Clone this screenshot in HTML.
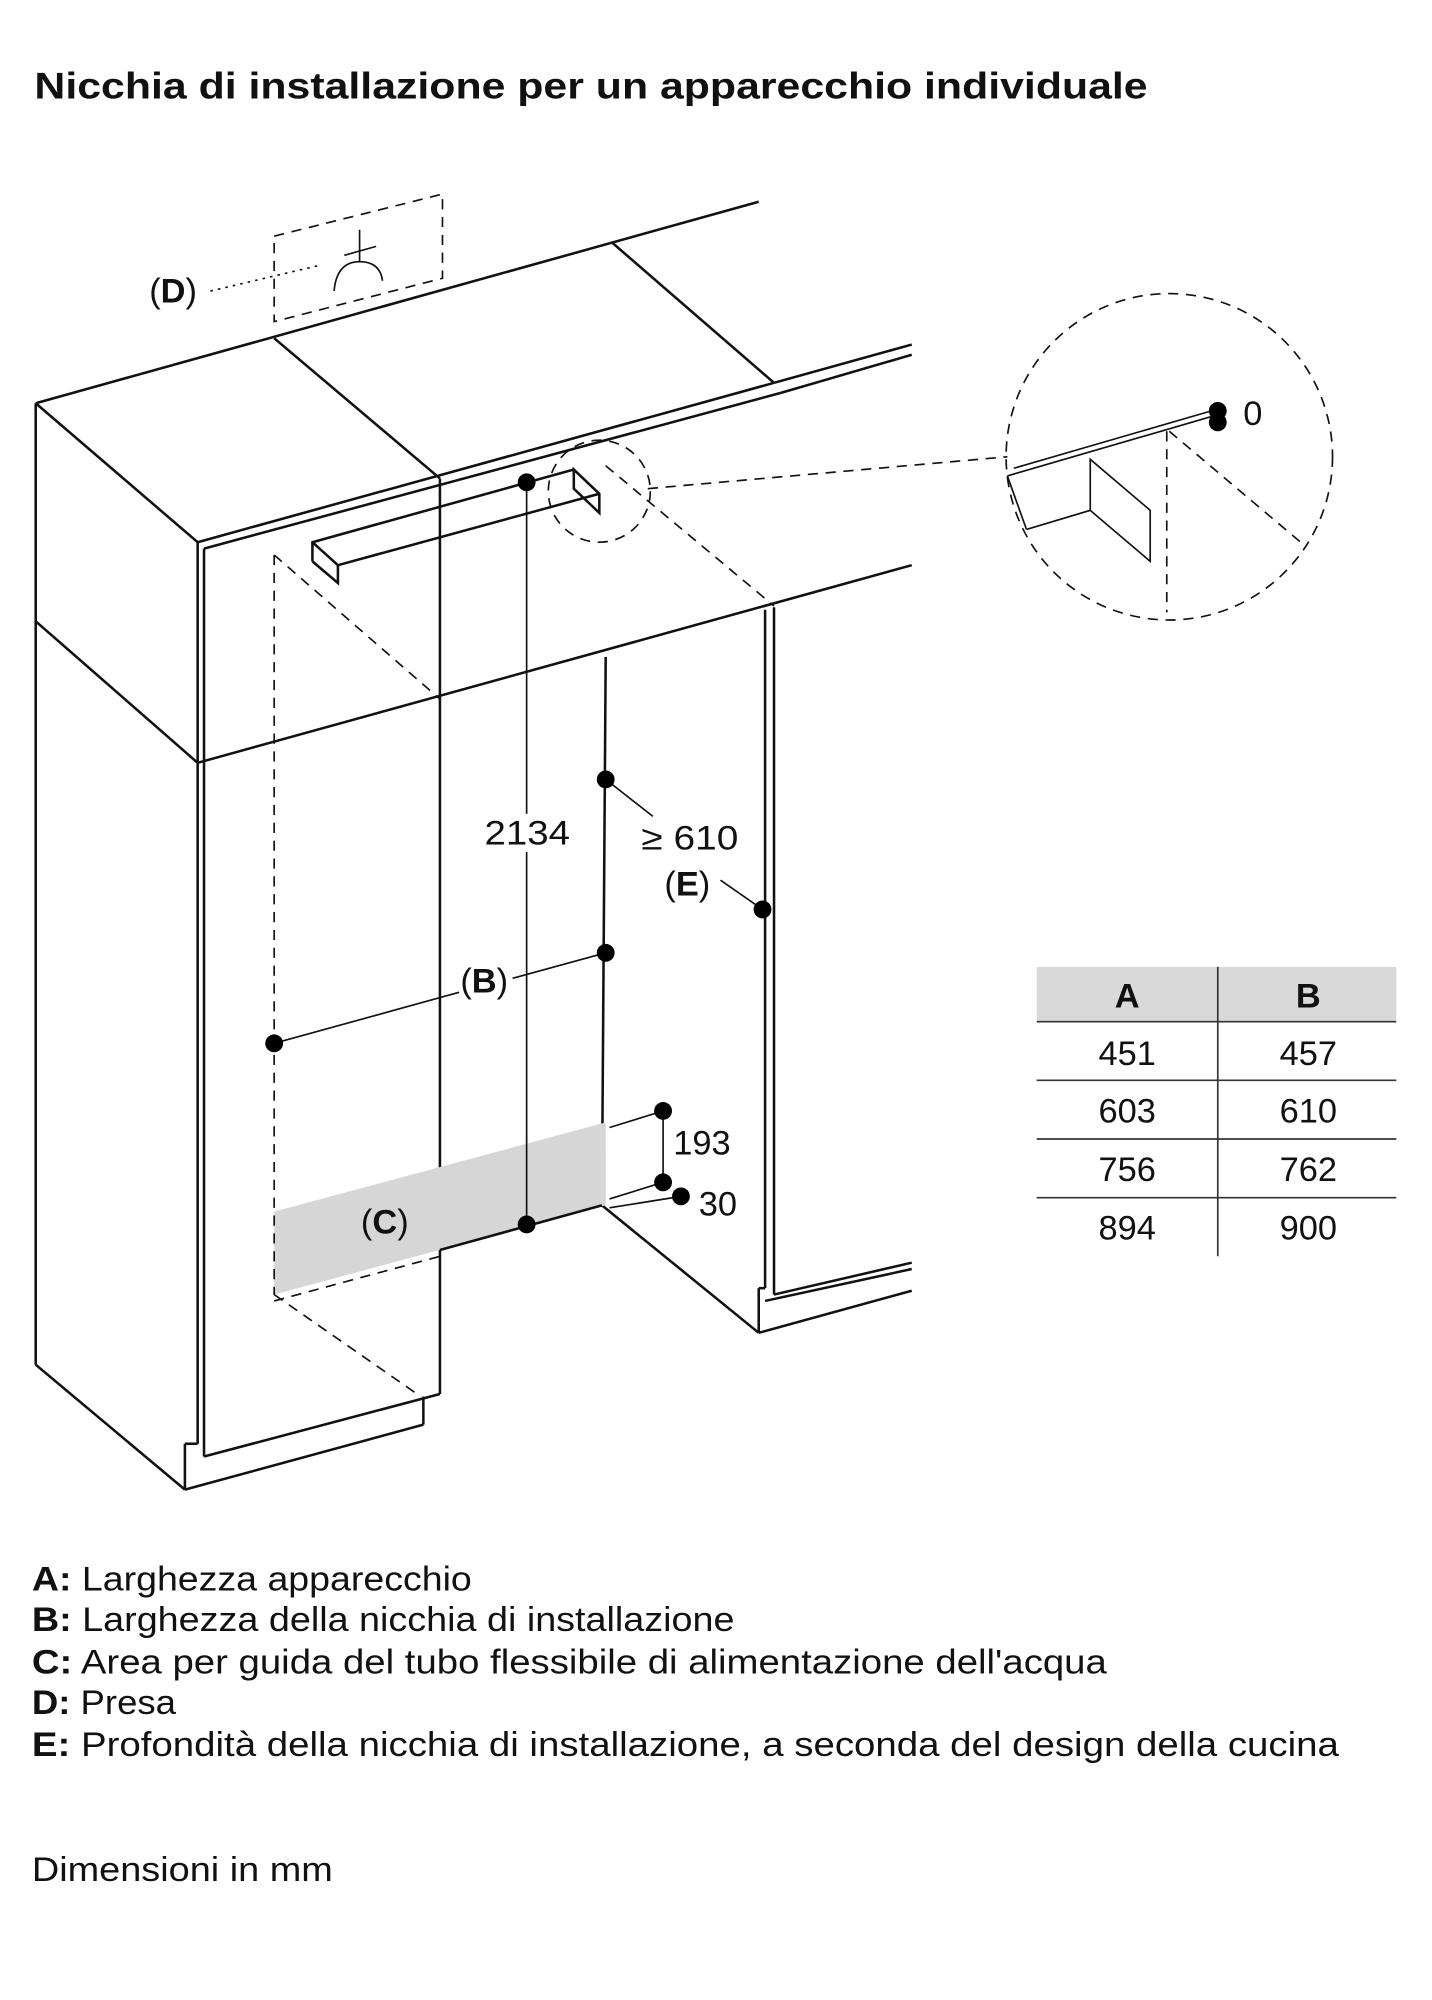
<!DOCTYPE html>
<html><head><meta charset="utf-8"><style>
html,body{margin:0;padding:0;background:#fff}
svg{display:block}
text{font-family:"Liberation Sans",sans-serif;fill:#111}
</style></head><body>
<svg width="1432" height="2000" viewBox="0 0 1123 1568" xmlns="http://www.w3.org/2000/svg">
<text x="27" y="77" font-size="29" font-weight="bold" textLength="873" lengthAdjust="spacingAndGlyphs">Nicchia di installazione per un apparecchio individuale</text>
<g stroke="#111" stroke-width="2" fill="none">
<line x1="28" y1="316" x2="595" y2="158"/>
<line x1="28" y1="316" x2="155" y2="425"/>
<line x1="155" y1="425" x2="607" y2="300"/>
<line x1="607" y1="300" x2="715" y2="270"/>
<line x1="612" y1="308" x2="715" y2="278"/>
<line x1="160" y1="430" x2="612" y2="308"/>
<line x1="215" y1="265" x2="345" y2="375"/>
<line x1="480" y1="190" x2="607" y2="300"/>
<line x1="155" y1="598" x2="715" y2="443"/>
<line x1="28" y1="487" x2="155" y2="598"/>
<line x1="28" y1="316" x2="28" y2="1070"/>
<line x1="155" y1="425" x2="155" y2="1132"/>
<line x1="160" y1="430" x2="160" y2="1142"/>
<line x1="28" y1="1070" x2="145" y2="1168"/>
<line x1="145" y1="1168" x2="332" y2="1117"/>
<line x1="145" y1="1132" x2="155" y2="1132"/>
<line x1="145" y1="1132" x2="145" y2="1168"/>
<line x1="160" y1="1142" x2="345" y2="1093"/>
<line x1="332" y1="1095" x2="332" y2="1117"/>
<line x1="345" y1="375" x2="345" y2="1093"/>
<line x1="475" y1="515" x2="472" y2="945"/>
<line x1="345" y1="980" x2="472" y2="945"/>
<line x1="472" y1="945" x2="595" y2="1045"/>
<line x1="600" y1="478" x2="600" y2="1010"/>
<line x1="607" y1="476" x2="607" y2="1015"/>
<line x1="595" y1="1010" x2="595" y2="1045"/>
<line x1="595" y1="1010" x2="600" y2="1010"/>
<line x1="607" y1="1015" x2="715" y2="990"/>
<line x1="600" y1="1020" x2="715" y2="995"/>
<line x1="595" y1="1045" x2="715" y2="1012"/>
<polyline points="245,440 245,425 450,368"/>
<polyline points="245,440 265,457 265,443 470,387"/>
<line x1="245" y1="425" x2="265" y2="443"/>
<polygon points="450,368 470,387 470,402 450,383"/>
</g>
<polygon points="215,950 475,880 475,945 345,980 215,1015" fill="#d6d6d6"/>
<line x1="345" y1="980" x2="472" y2="945" stroke="#111" stroke-width="2"/>
<g stroke="#111" stroke-width="1.3" fill="none" stroke-dasharray="8,6">
<line x1="215" y1="435" x2="215" y2="1015"/>
<line x1="215" y1="435" x2="345" y2="548"/>
<line x1="475" y1="365" x2="607" y2="475"/>
<line x1="215" y1="1015" x2="330" y2="1095"/>
<line x1="215" y1="1020" x2="345" y2="985"/>
<polygon points="215,185 347,152 347,218 215,252"/>
<circle cx="470" cy="385" r="40"/>
<line x1="508" y1="383" x2="790" y2="358"/>
<circle cx="917" cy="358" r="128"/>
<line x1="915" y1="338" x2="915" y2="480"/>
<line x1="917" y1="338" x2="1020" y2="425"/>
</g>
<g stroke="#111" stroke-width="1.3" fill="none">
<line x1="413" y1="378" x2="413" y2="960"/>
<line x1="215" y1="818" x2="360" y2="778"/>
<line x1="402" y1="767" x2="475" y2="747"/>
<line x1="475" y1="611" x2="512" y2="640"/>
<line x1="565" y1="690" x2="598" y2="713"/>
<line x1="520" y1="871" x2="520" y2="927"/>
<line x1="478" y1="884" x2="520" y2="871"/>
<line x1="478" y1="940" x2="520" y2="927"/>
<line x1="478" y1="947" x2="534" y2="938"/>
<line x1="165" y1="228" x2="250" y2="208" stroke-dasharray="2,4"/>
<path d="M262,228 Q264,205 282,205 Q298,205 300,220"/>
<line x1="282" y1="205" x2="282" y2="180"/>
<line x1="270" y1="200" x2="295" y2="193"/>
<line x1="790" y1="373" x2="955" y2="325"/>
<line x1="795" y1="367" x2="950" y2="322"/>
<polyline points="805,415 855,400 855,360 902,400 902,440 855,400"/>
<line x1="790" y1="373" x2="805" y2="415"/>
</g>
<rect x="378" y="638" width="70" height="30" fill="#fff"/>
<g fill="#000">
<circle cx="413" cy="378" r="7"/><circle cx="413" cy="960" r="7"/>
<circle cx="215" cy="818" r="7"/><circle cx="475" cy="747" r="7"/>
<circle cx="475" cy="611" r="7"/><circle cx="598" cy="713" r="7"/>
<circle cx="520" cy="871" r="7"/><circle cx="520" cy="927" r="7"/>
<circle cx="534" cy="938" r="7"/>
<circle cx="955" cy="322" r="7"/><circle cx="955" cy="331" r="7"/>
</g>
<g font-size="27">
<text x="117" y="237">(<tspan font-weight="bold">D</tspan>)</text>
<text x="380" y="662" textLength="67" lengthAdjust="spacingAndGlyphs">2134</text>
<text x="503" y="666" textLength="76" lengthAdjust="spacingAndGlyphs">≥ 610</text>
<text x="521" y="702">(<tspan font-weight="bold">E</tspan>)</text>
<text x="361" y="778">(<tspan font-weight="bold">B</tspan>)</text>
<text x="528" y="905">193</text>
<text x="548" y="953">30</text>
<text x="283" y="967">(<tspan font-weight="bold">C</tspan>)</text>
<text x="975" y="333">0</text>
</g>
<rect x="813" y="758" width="282" height="43" fill="#d9d9d9"/>
<g stroke="#333" stroke-width="1.3">
<line x1="813" y1="801" x2="1095" y2="801"/>
<line x1="813" y1="847" x2="1095" y2="847"/>
<line x1="813" y1="893" x2="1095" y2="893"/>
<line x1="813" y1="939" x2="1095" y2="939"/>
<line x1="955" y1="758" x2="955" y2="985"/>
</g>
<g font-size="27" text-anchor="middle">
<text x="884" y="790" font-weight="bold">A</text><text x="1026" y="790" font-weight="bold">B</text>
<text x="884" y="835">451</text><text x="1026" y="835">457</text>
<text x="884" y="880">603</text><text x="1026" y="880">610</text>
<text x="884" y="926">756</text><text x="1026" y="926">762</text>
<text x="884" y="972">894</text><text x="1026" y="972">900</text>
</g>
<g font-size="27" lengthAdjust="spacingAndGlyphs">
<text x="25" y="1247" textLength="345" lengthAdjust="spacingAndGlyphs"><tspan font-weight="bold">A:</tspan> Larghezza apparecchio</text>
<text x="25" y="1279" textLength="551" lengthAdjust="spacingAndGlyphs"><tspan font-weight="bold">B:</tspan> Larghezza della nicchia di installazione</text>
<text x="25" y="1312" textLength="843" lengthAdjust="spacingAndGlyphs"><tspan font-weight="bold">C:</tspan> Area per guida del tubo flessibile di alimentazione dell'acqua</text>
<text x="25" y="1344" textLength="113" lengthAdjust="spacingAndGlyphs"><tspan font-weight="bold">D:</tspan> Presa</text>
<text x="25" y="1377" textLength="1025" lengthAdjust="spacingAndGlyphs"><tspan font-weight="bold">E:</tspan> Profondità della nicchia di installazione, a seconda del design della cucina</text>
<text x="25" y="1475" textLength="236" lengthAdjust="spacingAndGlyphs">Dimensioni in mm</text>
</g>
</svg>
</body></html>
